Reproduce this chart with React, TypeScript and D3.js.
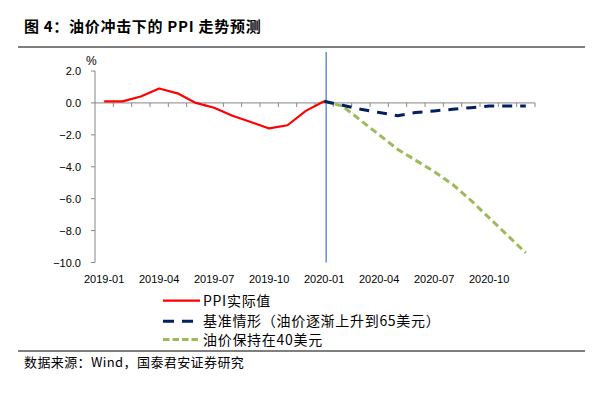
import React, { useEffect, useRef } from 'react';
import * as d3 from 'd3';

const months = [
  '2019-01', '2019-02', '2019-03', '2019-04', '2019-05', '2019-06',
  '2019-07', '2019-08', '2019-09', '2019-10', '2019-11', '2019-12',
  '2020-01', '2020-02', '2020-03', '2020-04', '2020-05', '2020-06',
  '2020-07', '2020-08', '2020-09', '2020-10', '2020-11', '2020-12',
];
const labelMonths = ['2019-01', '2019-04', '2019-07', '2019-10', '2020-01', '2020-04', '2020-07', '2020-10'];
const yTicks = [2, 0, -2, -4, -6, -8, -10];

// PPI 实际值 2019-01 .. 2020-01
const actual = [0.1, 0.1, 0.4, 0.9, 0.6, 0.0, -0.3, -0.8, -1.2, -1.6, -1.4, -0.5, 0.1];
// 基准情形 2020-01 .. 2020-12
const baseline = [0.1, -0.15, -0.4, -0.6, -0.8, -0.6, -0.5, -0.4, -0.3, -0.2, -0.2, -0.2];
// 油价保持在40美元 2020-01 .. 2020-12
const oil40 = [0.1, -0.2, -1.1, -2.0, -2.9, -3.6, -4.3, -5.1, -6.1, -7.2, -8.3, -9.4];

const seriesNames = ['PPI实际值', '基准情形（油价逐渐上升到65美元）', '油价保持在40美元'];

const CJK = '"Noto Sans CJK SC", sans-serif';
const LAT = '"Liberation Sans", Arial, sans-serif';

export default function App() {
  const ref = useRef<SVGSVGElement>(null);

  useEffect(() => {
    const svg = d3.select(ref.current);
    svg.selectAll('*').remove();

    const x = d3.scaleBand<string>().domain(months).range([95, 535]);
    const y = d3.scaleLinear().domain([-10, 2]).range([262.5, 71]);
    const cx = (m: string) => (x(m) as number) + x.bandwidth() / 2;
    const axisColor = '#868686';

    // title
    svg.append('text')
      .attr('x', 24).attr('y', 32)
      .attr('font-family', CJK).attr('font-size', 15).attr('font-weight', 'bold')
      .attr('letter-spacing', 0.7)
      .attr('fill', '#000')
      .text('图 4：油价冲击下的 PPI 走势预测');
    svg.append('line')
      .attr('x1', 18).attr('x2', 585).attr('y1', 47).attr('y2', 47)
      .attr('stroke', '#000').attr('stroke-width', 1.2);

    // y axis
    svg.append('line')
      .attr('x1', 95).attr('x2', 95).attr('y1', y(2)).attr('y2', y(-10))
      .attr('stroke', axisColor);
    yTicks.forEach((t) => {
      svg.append('line')
        .attr('x1', 91).attr('x2', 95).attr('y1', y(t)).attr('y2', y(t))
        .attr('stroke', axisColor);
      svg.append('text')
        .attr('x', 81).attr('y', y(t) + 4)
        .attr('text-anchor', 'end')
        .attr('font-family', LAT).attr('font-size', 11).attr('fill', '#000')
        .text(d3.format('.1f')(t));
    });
    svg.append('text')
      .attr('x', 86).attr('y', 65)
      .attr('font-family', LAT).attr('font-size', 12).attr('fill', '#000')
      .text('%');

    // x axis at zero
    svg.append('line')
      .attr('x1', 95).attr('x2', 535).attr('y1', y(0)).attr('y2', y(0))
      .attr('stroke', axisColor);
    months.forEach((m) => {
      const xe = (x(m) as number) + x.bandwidth();
      svg.append('line')
        .attr('x1', xe).attr('x2', xe).attr('y1', y(0)).attr('y2', y(0) + 4)
        .attr('stroke', axisColor);
    });
    labelMonths.forEach((m) => {
      svg.append('text')
        .attr('x', cx(m)).attr('y', 283)
        .attr('text-anchor', 'middle')
        .attr('font-family', LAT).attr('font-size', 11).attr('fill', '#000')
        .text(m);
    });

    // divider at 2020-01
    svg.append('line')
      .attr('x1', cx('2020-01') + 2).attr('x2', cx('2020-01') + 2)
      .attr('y1', 52).attr('y2', y(-10))
      .attr('stroke', '#4472C4').attr('stroke-width', 1.2);

    const line = d3.line<number>()
      .x((_, i) => cx(months[i]))
      .y((d) => y(d));
    const lineFrom = (start: number) => d3.line<number>()
      .x((_, i) => cx(months[start + i]))
      .y((d) => y(d));

    svg.append('path')
      .attr('d', lineFrom(12)(oil40))
      .attr('fill', 'none').attr('stroke', '#9BBB59').attr('stroke-width', 3)
      .attr('stroke-dasharray', '7,4');
    svg.append('path')
      .attr('d', lineFrom(12)(baseline))
      .attr('fill', 'none').attr('stroke', '#002060').attr('stroke-width', 3)
      .attr('stroke-dasharray', '10,8');
    svg.append('path')
      .attr('d', line(actual))
      .attr('fill', 'none').attr('stroke', '#FF0000').attr('stroke-width', 2.2)
      .attr('stroke-linejoin', 'round');

    // legend
    const legend = [
      { name: seriesNames[0], color: '#FF0000', dash: null, w: 2.2, y: 300.7 },
      { name: seriesNames[1], color: '#002060', dash: '11,8', w: 3, y: 321.3 },
      { name: seriesNames[2], color: '#9BBB59', dash: '6.5,3', w: 3, y: 339.5 },
    ];
    legend.forEach((d) => {
      const l = svg.append('line')
        .attr('x1', 163).attr('x2', 200).attr('y1', d.y).attr('y2', d.y)
        .attr('stroke', d.color).attr('stroke-width', d.w);
      if (d.dash) l.attr('stroke-dasharray', d.dash);
      svg.append('text')
        .attr('x', 203).attr('y', d.y + 5)
        .attr('font-family', CJK).attr('font-size', 14).attr('letter-spacing', 0.7)
        .attr('fill', '#000')
        .text(d.name);
    });

    // source
    svg.append('line')
      .attr('x1', 18).attr('x2', 585).attr('y1', 351).attr('y2', 351)
      .attr('stroke', '#000').attr('stroke-width', 1.2);
    svg.append('text')
      .attr('x', 24).attr('y', 367)
      .attr('font-family', CJK).attr('font-size', 13).attr('letter-spacing', 0.4)
      .attr('fill', '#000')
      .text('数据来源：Wind，国泰君安证券研究');
  }, []);

  return (
    <svg
      ref={ref}
      width={604}
      height={393}
      style={{ position: 'absolute', left: 0, top: 0, background: '#fff' }}
    />
  );
}
